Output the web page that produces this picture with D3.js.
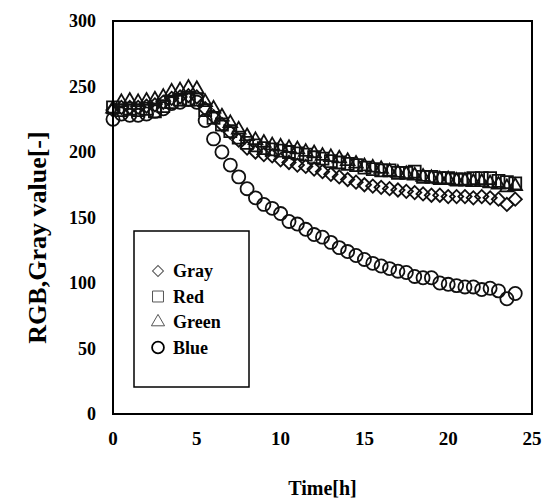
<!DOCTYPE html>
<html>
<head>
<meta charset="utf-8">
<script src="https://cdn.jsdelivr.net/npm/d3@7"></script>
<style>
  body { margin: 0; background: #fff; }
  svg text { font-family: "Liberation Serif", "Times New Roman", serif; font-weight: bold; }
</style>
</head>
<body>
<svg id="viz"></svg>
<script>
// time in hours, one sample every 30 min
var times = d3.range(0, 24.01, 0.5);

var gray  = [232,234,234,234,235,236,238,241,242,243,242,233,227,221,215,209,203,200,198,197,194,192,190,189,187,185,183,181,179,177,175,174,173,172,171,170,169,168,167,167,166,166,166,165,166,165,164,160,164];
var red   = [234,232,233,232,233,231,235,238,240,240,240,232,226,221,216,211,207,205,203,202,201,200,199,198,196,195,193,192,191,190,188,187,186,186,184,184,185,181,181,180,180,179,179,180,180,180,178,177,176];
var green = [233,238,239,238,239,240,242,246,247,249,248,238,233,227,222,217,212,209,207,205,204,203,202,200,199,197,196,195,193,191,189,188,187,185,184,183,182,181,180,179,179,178,178,177,177,176,175,173,174];
var blue  = [225,229,228,228,229,231,233,237,238,240,238,224,210,200,190,181,172,165,160,157,153,147,145,141,137,135,131,127,124,121,118,115,113,111,109,108,105,104,104,100,99,98,97,97,95,96,94,88,92];

var seriesNames = ["Gray", "Red", "Green", "Blue"];
var xTicks = [0, 5, 10, 15, 20, 25];
var yTicks = [0, 50, 100, 150, 200, 250, 300];

var width = 545, height = 502;
var margin = {left: 113, right: 13, top: 21, bottom: 88};

var svg = d3.select("#viz").attr("width", width).attr("height", height);

var x = d3.scaleLinear().domain([0, 25]).range([margin.left, width - margin.right]);
var y = d3.scaleLinear().domain([0, 300]).range([height - margin.bottom, margin.top]);

// marker shapes
var diamond = d3.symbol().type(d3.symbolSquare).size(88);
var square = d3.symbol().type(d3.symbolSquare).size(144);
var triangle = d3.symbol().type(d3.symbolTriangle).size(80);
var circle = d3.symbol().type(d3.symbolCircle).size(135);

var series = [
  {name: "Gray", values: gray, sym: diamond, rot: 45},
  {name: "Red", values: red, sym: square, rot: 0},
  {name: "Green", values: green, sym: triangle, rot: 0},
  {name: "Blue", values: blue, sym: circle, rot: 0}
];

var plot = svg.append("g");
series.forEach(function(s) {
  plot.append("g").selectAll("path")
    .data(s.values)
    .enter()
    .append("path")
    .attr("d", s.sym())
    .attr("transform", function(d, i) {
      return "translate(" + x(times[i]) + "," + y(d) + ") rotate(" + s.rot + ")";
    })
    .attr("fill", "none")
    .attr("stroke", "#111")
    .attr("stroke-width", 1.8);
});

// frame
svg.append("rect")
  .attr("x", x(0)).attr("y", y(300))
  .attr("width", x(25) - x(0)).attr("height", y(0) - y(300))
  .attr("fill", "none").attr("stroke", "black").attr("stroke-width", 2);

// tick labels
svg.append("g").selectAll("text").data(xTicks).enter().append("text")
  .attr("x", function(d) { return x(d); })
  .attr("y", y(0) + 31)
  .attr("text-anchor", "middle")
  .attr("font-size", 19)
  .text(function(d) { return d; });

svg.append("g").selectAll("text").data(yTicks).enter().append("text")
  .attr("x", x(0) - 17)
  .attr("y", function(d) { return y(d) + 6; })
  .attr("text-anchor", "end")
  .attr("font-size", 18)
  .text(function(d) { return d; });

// axis titles
svg.append("text")
  .attr("x", (x(0) + x(25)) / 2)
  .attr("y", 495)
  .attr("text-anchor", "middle")
  .attr("font-size", 20)
  .text("Time[h]");

svg.append("text")
  .attr("transform", "translate(46," + ((y(0) + y(300)) / 2 + 20) + ") rotate(-90)")
  .attr("text-anchor", "middle")
  .attr("font-size", 26)
  .text("RGB,Gray value[-]");

// legend
var legend = svg.append("g");
legend.append("rect")
  .attr("x", 134).attr("y", 231).attr("width", 115).attr("height", 156)
  .attr("fill", "white").attr("stroke", "black").attr("stroke-width", 1.5);

var legendSyms = [
  d3.symbol().type(d3.symbolSquare).size(60),
  d3.symbol().type(d3.symbolSquare).size(120),
  d3.symbol().type(d3.symbolTriangle).size(75),
  d3.symbol().type(d3.symbolCircle).size(110)
];
var legendRot = [45, 0, 0, 0];
var legendStroke = ["#555", "#555", "#555", "#000"];
var legendWidth = [1, 1, 1, 1.8];

seriesNames.forEach(function(name, i) {
  var ly = 271 + i * 25.5;
  legend.append("path")
    .attr("d", legendSyms[i]())
    .attr("transform", "translate(158," + ly + ") rotate(" + legendRot[i] + ")")
    .attr("fill", "none")
    .attr("stroke", legendStroke[i])
    .attr("stroke-width", legendWidth[i]);
  legend.append("text")
    .attr("x", 173)
    .attr("y", ly + 6)
    .attr("font-size", 18)
    .text(name);
});
</script>
</body>
</html>
